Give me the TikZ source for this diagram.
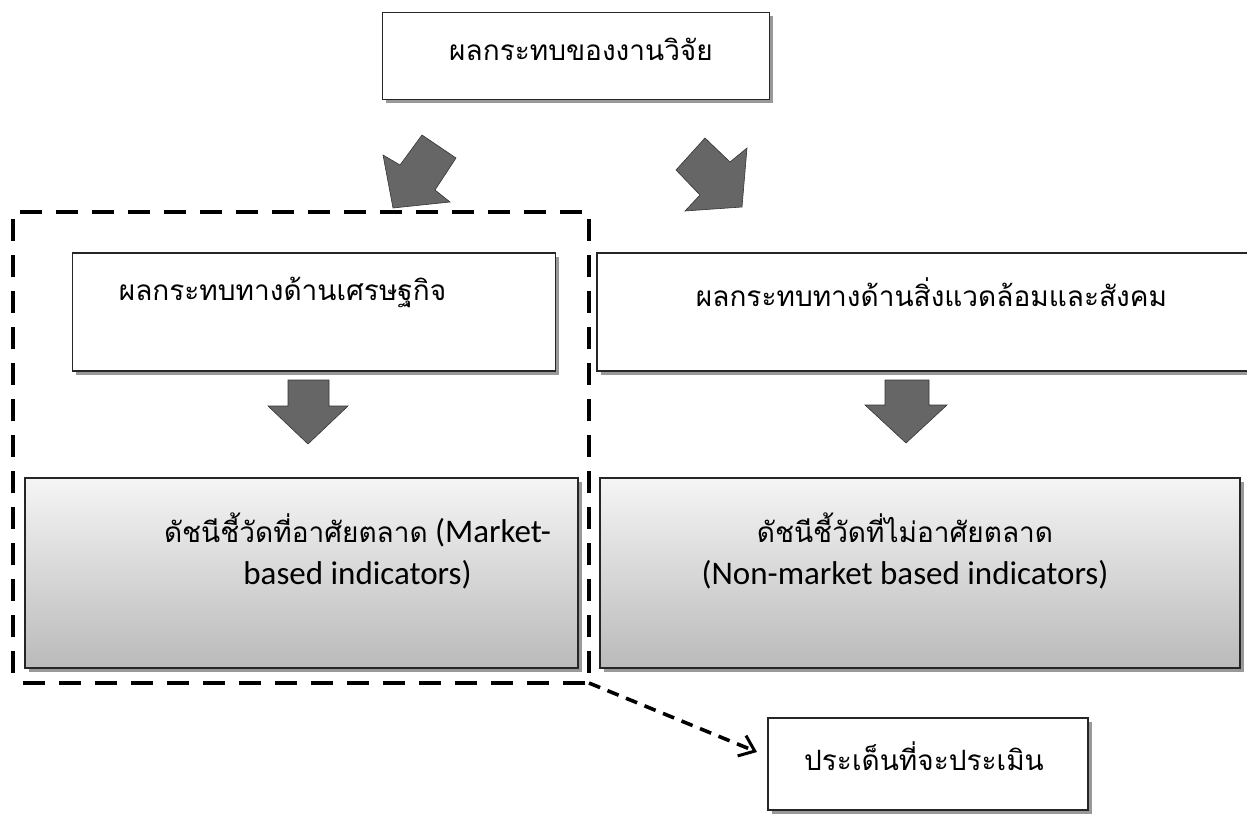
\documentclass[tikz,border=0pt]{standalone}
\usepackage{fontspec}
\setmainfont{Carlito}
\newfontfamily\thaifont[Script=Thai]{Loma}
\usetikzlibrary{shadows,arrows.meta,calc}

\begin{document}
\begin{tikzpicture}[x=1pt,y=-1pt,
  box/.style={rectangle, draw=black!85, line width=1.6pt, fill=white, inner sep=0pt,
    drop shadow={shadow xshift=3.5pt, shadow yshift=-3.5pt, fill=black!40, opacity=1}},
  gradbox/.style={box, top color=black!4, bottom color=black!27},
  lbl/.style={inner sep=0pt, align=center, font=\fontsize{33}{42}\selectfont},
  thfont/.style={font=\thaifont\fontsize{28}{34}\selectfont},
  th/.style={thfont, inner sep=0pt},
  blockarrow/.style={fill=black!60, draw=black!80, line width=0.6pt, line join=miter},
  groupline/.style={line width=4pt, dash pattern=on 22pt off 14pt, dash phase=26pt},
  linkline/.style={line width=3.6pt, dash pattern=on 12pt off 8pt,
    -{Straight Barb[length=14pt, width=22pt, line width=3pt]}}
]
\useasboundingbox (0,0) rectangle (1247,817);
\clip (0,0) rectangle (1247,817);

% boxes
\node[box, minimum width=387pt, minimum height=87pt] (top) at (576,56) {};
\node[th] (toptext) at ($(top)+(5,-7)$) {ผลกระทบของงานวิจัย};

\node[box, minimum width=483pt, minimum height=118pt] (econ) at (314,312) {};
\node[th, anchor=west] (econtext) at ($(econ.west)+(47,-20)$) {ผลกระทบทางด้านเศรษฐกิจ};

\node[box, minimum width=665pt, minimum height=118pt] (envsoc) at (929.5,312) {};
\node[th] (envsoctext) at ($(envsoc)+(2,-20)$) {ผลกระทบทางด้านสิ่งแวดล้อมและสังคม};

\node[gradbox, minimum width=553pt, minimum height=190pt] (mkt) at (301.5,573) {};
\node[lbl] (mkttext) at ($(mkt)+(56,-22)$)
  {{\thaifont\fontsize{28}{34}\selectfont ดัชนีชี้วัดที่อาศัยตลาด} (Market-\\based indicators)};

\node[gradbox, minimum width=640pt, minimum height=190pt] (nonmkt) at (920,573) {};
\node[lbl] (nonmkttext) at ($(nonmkt)+(-15,-22)$)
  {{\thaifont\fontsize{28}{34}\selectfont ดัชนีชี้วัดที่ไม่อาศัยตลาด}\\(Non-market based indicators)};

\node[box, minimum width=320pt, minimum height=92pt] (issue) at (928,764) {};
\node[th] (issuetext) at ($(issue)+(-4,-8)$) {ประเด็นที่จะประเมิน};

% block arrows
\draw[blockarrow] (422,135) -- (456,158) -- (435,190) -- (450,202) -- (393,208)
  -- (383,155) -- (400,165) -- cycle;
\draw[blockarrow] (705,138) -- (676,170) -- (700,195) -- (685,211) -- (742,207)
  -- (747,148) -- (730,162) -- cycle;
\draw[blockarrow] (288,380) -- (329,380) -- (329,406) -- (348,406) -- (308,444)
  -- (268,406) -- (288,406) -- cycle;
\draw[blockarrow] (885,380) -- (929,380) -- (929,405) -- (947,405) -- (906,443)
  -- (865,405) -- (885,405) -- cycle;

% market-based group and link to the assessment box
\draw[groupline] (13,683) -- (13,212) -- (589,212) -- (589,683) -- cycle;
\coordinate (gcorner) at (589,683);
\coordinate (linkend) at (757,752);
\draw[linkline] (gcorner) -- (linkend);
\end{tikzpicture}
\end{document}
